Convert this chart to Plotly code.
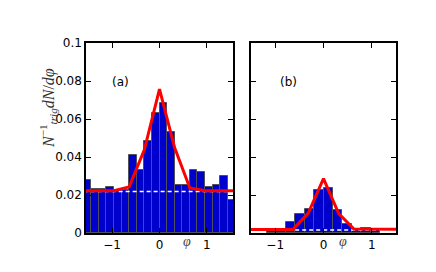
import plotly.graph_objects as go

# ---- data ----
phi_a = [-1.52, -1.36, -1.20, -1.04, -0.88, -0.72, -0.56, -0.40, -0.24, -0.08,
         0.08, 0.24, 0.40, 0.56, 0.72, 0.88, 1.04, 1.20, 1.36, 1.52]
vals_a = [0.0280, 0.0232, 0.0232, 0.0242, 0.0225, 0.0228, 0.0412, 0.0333, 0.0482, 0.0632,
          0.0684, 0.0533, 0.0253, 0.0253, 0.0333, 0.0321, 0.0242, 0.0253, 0.0302, 0.0172]
fit_a_x = [-1.6, -0.96, -0.64, -0.32, 0.0, 0.32, 0.64, 0.96, 1.6]
fit_a_y = [0.0222, 0.0222, 0.0243, 0.0438, 0.0757, 0.0448, 0.0237, 0.0222, 0.0222]
base_a = 0.0218

phi_b = [-1.080, -0.884, -0.687, -0.491, -0.294, -0.098,
         0.098, 0.294, 0.491, 0.687, 0.884, 1.080]
vals_b = [0.0014, 0.0014, 0.0058, 0.0098, 0.0128, 0.0228,
          0.0239, 0.0123, 0.0049, 0.0023, 0.0025, 0.0014]
fit_b_x = [-1.6, -0.63, -0.315, 0.0, 0.315, 0.63, 1.6]
fit_b_y = [0.0019, 0.0019, 0.0105, 0.0286, 0.0102, 0.0021, 0.0019]
base_b = 0.0016

width_a = 0.16
width_b = 0.196

ytick_vals = [0, 0.02, 0.04, 0.06, 0.08, 0.1]
ytick_text = ["0", "0.02", "0.04", "0.06", "0.08", "0.1"]
xtick_vals = [-1, 0, 1]
xtick_text = ["\u22121", "0", "1"]

W, H = 436, 272
BAR = "rgb(0,0,205)"
EDGE = "rgb(80,80,90)"

fig = go.Figure()

# panel (a)
fig.add_trace(go.Bar(x=phi_a, y=vals_a, width=width_a, marker=dict(color=BAR, line=dict(color=EDGE, width=1)),
                     xaxis="x", yaxis="y", showlegend=False))
fig.add_trace(go.Scatter(x=[-1.6, 1.6], y=[base_a, base_a], mode="lines",
                         line=dict(color="white", width=1.5, dash="4px,3px"),
                         xaxis="x", yaxis="y", showlegend=False))
fig.add_trace(go.Scatter(x=fit_a_x, y=fit_a_y, mode="lines", line=dict(color="red", width=3),
                         xaxis="x", yaxis="y", showlegend=False))

# panel (b)
fig.add_trace(go.Bar(x=phi_b, y=vals_b, width=width_b, marker=dict(color=BAR, line=dict(color=EDGE, width=1)),
                     xaxis="x2", yaxis="y2", showlegend=False))
fig.add_trace(go.Scatter(x=[-1.6, 1.6], y=[base_b, base_b], mode="lines",
                         line=dict(color="white", width=1.5, dash="4px,3px"),
                         xaxis="x2", yaxis="y2", showlegend=False))
fig.add_trace(go.Scatter(x=fit_b_x, y=fit_b_y, mode="lines", line=dict(color="red", width=3),
                         xaxis="x2", yaxis="y2", showlegend=False))

tickfont = dict(family="DejaVu Sans", size=12, color="black")
common = dict(showline=True, linecolor="black", linewidth=1.5, mirror="allticks",
              ticks="inside", ticklen=5, tickwidth=1.2, tickcolor="black",
              showgrid=False, zeroline=False, tickfont=tickfont, automargin=False)

ydom = [1 - 233 / H, 1 - 43 / H]
fig.update_layout(
    width=W, height=H,
    margin=dict(l=0, r=0, t=0, b=0),
    paper_bgcolor="white", plot_bgcolor="white",
    bargap=0,
    xaxis=dict(domain=[86 / W, 233 / W], range=[-1.55, 1.55], tickvals=xtick_vals, ticktext=xtick_text,
               anchor="y", **common),
    yaxis=dict(domain=ydom, range=[0, 0.1], tickvals=ytick_vals, ticktext=ytick_text,
               anchor="x", **common),
    xaxis2=dict(domain=[251 / W, 396 / W], range=[-1.5, 1.5], tickvals=xtick_vals, ticktext=xtick_text,
                anchor="y2", **common),
    yaxis2=dict(domain=ydom, range=[0, 0.1], tickvals=ytick_vals, showticklabels=False,
                anchor="x2", **common),
)

ann_font = dict(family="DejaVu Sans", size=12, color="black")
fig.add_annotation(x=-0.83, y=0.0796, xref="x", yref="y", text="(a)", showarrow=False, font=ann_font)
fig.add_annotation(x=-0.72, y=0.0796, xref="x2", yref="y2", text="(b)", showarrow=False, font=ann_font)

phi_font = dict(family="Liberation Serif", size=14, color="#444")
fig.add_annotation(x=187 / W, y=1 - 251 / H, xref="paper", yref="paper", text="<i>\u03c6</i>",
                   showarrow=False, font=phi_font)
fig.add_annotation(x=349 / W, y=1 - 251 / H, xref="paper", yref="paper", text="<i>\u03c6</i>",
                   showarrow=False, font=phi_font)

fig.add_annotation(x=35 / W, y=1 - 108 / H, xref="paper", yref="paper", textangle=-90,
                   text="<i>N</i><sup>\u22121</sup><sub><i>trig</i></sub><i>dN</i>/<i>d\u03c6</i>",
                   showarrow=False, font=dict(family="Liberation Serif", size=16, color="#333"))

fig.write_html("out.html", config={"displayModeBar": False},
               post_script="document.body.style.margin='0';document.body.style.padding='0';")
